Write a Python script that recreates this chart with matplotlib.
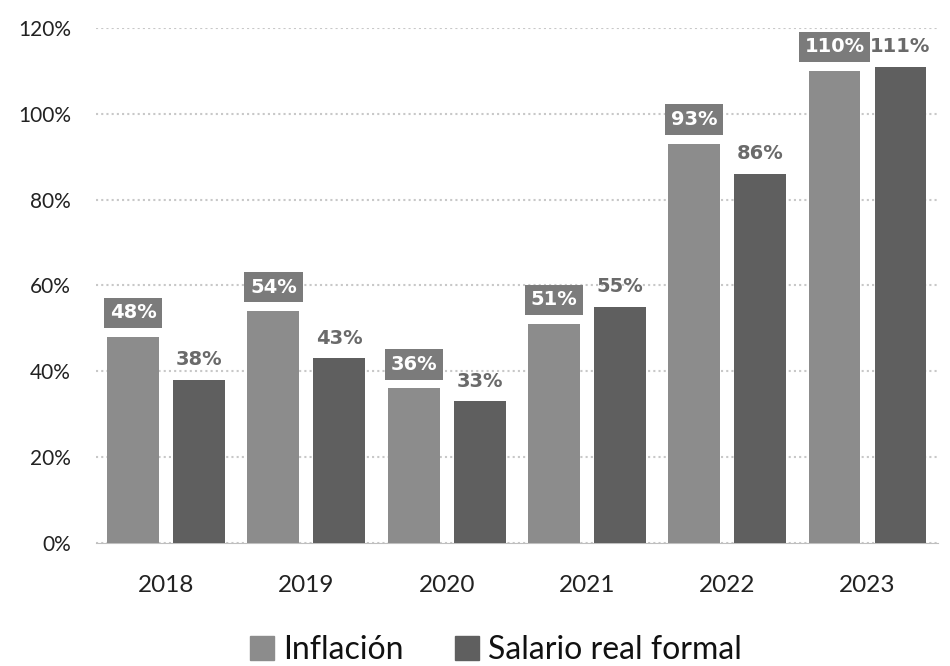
import numpy as np
import matplotlib
matplotlib.use('Agg')
import matplotlib.pyplot as plt
from matplotlib.patches import Patch

YEARS = ['2018', '2019', '2020', '2021', '2022', '2023']
INFLACION = [48, 54, 36, 51, 93, 110]
SALARIO = [38, 43, 33, 55, 86, 111]

C_INF = '#8c8c8c'
C_SAL = '#5f5f5f'
C_BOX = '#7b7b7b'

plt.rcParams['font.family'] = ['Lato', 'DejaVu Sans']

fig = plt.figure(figsize=(9.5, 6.66), dpi=100)
ax = fig.add_axes([0.101, 0.185, 0.886, 0.773])

x = np.arange(len(YEARS))
width = 0.37
off = 0.235

bars_i = ax.bar(x - off, INFLACION, width, color=C_INF, zorder=3)
bars_s = ax.bar(x + off, SALARIO, width, color=C_SAL, zorder=3)

# inflation labels sit in a dark box, salary labels are plain text
for bar, val in zip(bars_i, INFLACION):
    ax.text(bar.get_x() + bar.get_width() / 2, val + 5.6, f'{val}%',
            ha='center', va='center', fontsize=14, fontweight='bold',
            family='DejaVu Sans', color='white', zorder=4,
            bbox=dict(boxstyle='square,pad=0.3', fc=C_BOX, ec='none'))
for bar, val in zip(bars_s, SALARIO):
    ax.text(bar.get_x() + bar.get_width() / 2, val + 4.7, f'{val}%',
            ha='center', va='center', fontsize=14, fontweight='bold',
            family='DejaVu Sans', color='#6a6a6a', zorder=4)

ax.set_xlim(-0.5, 5.5)
ax.set_ylim(0, 120)
ax.set_yticks(np.arange(0, 121, 20))
ax.set_yticklabels([f'{v}%' for v in range(0, 121, 20)], fontsize=15, color='#222222')
ax.set_xticks(x)
ax.set_xticklabels(YEARS, fontsize=17.5, color='#222222')
ax.tick_params(length=0)
ax.tick_params(axis='y', pad=18)
ax.tick_params(axis='x', pad=23)

for s in ['top', 'right', 'left']:
    ax.spines[s].set_visible(False)
ax.spines['bottom'].set_color('#bfbfbf')
ax.yaxis.grid(True, ls=(0, (1, 1.5)), color='#c8c8c8', lw=1.5, zorder=0)
ax.set_axisbelow(True)

handles = [Patch(color=C_INF, label='Inflación'),
           Patch(color=C_SAL, label='Salario real formal')]
fig.legend(handles=handles, loc='center', bbox_to_anchor=(0.522, 0.024),
           ncol=2, frameon=False, fontsize=23, handlelength=0.75,
           handleheight=0.75, handletextpad=0.3, columnspacing=1.6,
           labelcolor='#111111')

fig.savefig('out.png', dpi=100)
plt.close(fig)
